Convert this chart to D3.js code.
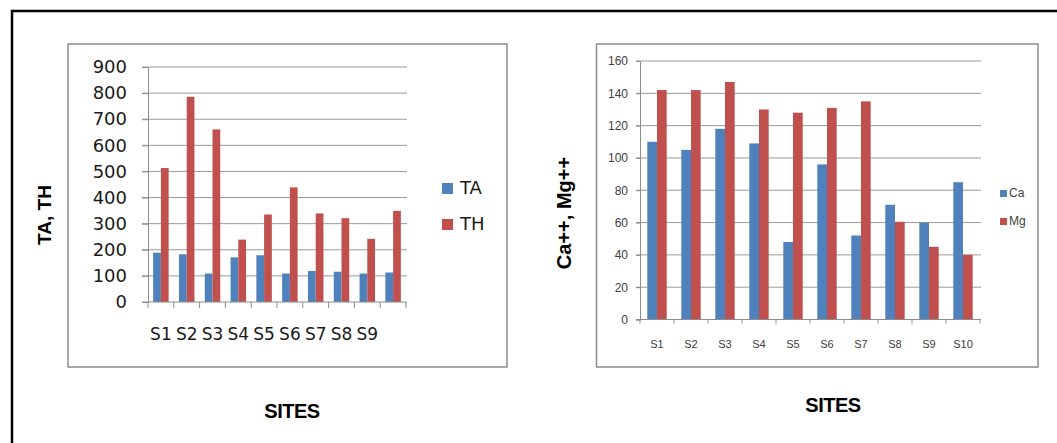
<!DOCTYPE html>
<html>
<head>
<meta charset="utf-8">
<script src="https://cdn.jsdelivr.net/npm/d3@7"></script>
<style>
  body { margin: 0; background: #fff; }
  svg { display: block; }
</style>
</head>
<body>
<div id="chart"></div>
<script>
// data
const sitesLeft = ["S1", "S2", "S3", "S4", "S5", "S6", "S7", "S8", "S9", "S10"];
const taValues = [189, 183, 109, 171, 179, 109, 119, 116, 109, 113];
const thValues = [513, 786, 661, 239, 335, 439, 339, 321, 242, 349];
const leftTicks = [0, 100, 200, 300, 400, 500, 600, 700, 800, 900];

const sitesRight = ["S1", "S2", "S3", "S4", "S5", "S6", "S7", "S8", "S9", "S10"];
const caValues = [110, 105, 118, 109, 48, 96, 52, 71, 60, 85];
const mgValues = [142, 142, 147, 130, 128, 131, 135, 60.5, 45, 40];
const rightTicks = [0, 20, 40, 60, 80, 100, 120, 140, 160];

const blue = "#4F81BD", red = "#C0504D";

const svg = d3.select("#chart").append("svg")
    .attr("width", 1057)
    .attr("height", 443);

// outer black border (top and left only)
svg.append("line").attr("x1", 11).attr("x2", 1057).attr("y1", 11).attr("y2", 11)
    .attr("stroke", "#000").attr("stroke-width", 2.5);
svg.append("line").attr("x1", 12).attr("x2", 12).attr("y1", 10).attr("y2", 443)
    .attr("stroke", "#000").attr("stroke-width", 2.5);

function drawChart(opt) {
    const g = svg.append("g");

    // chart frame
    g.append("rect")
        .attr("x", opt.frame[0]).attr("y", opt.frame[1])
        .attr("width", opt.frame[2]).attr("height", opt.frame[3])
        .attr("fill", "none").attr("stroke", "#8c8c8c").attr("stroke-width", 1.5);

    const n = opt.cats.length;
    const x = d3.scaleBand()
        .domain(opt.cats)
        .range([opt.x0, opt.x1])
        .paddingInner(opt.pad)
        .paddingOuter(opt.pad / 2);
    const x1 = d3.scaleBand().domain([0, 1]).range([0, x.bandwidth()]);
    const y = d3.scaleLinear().domain([0, opt.max]).range([opt.y0, opt.y1]);
    const step = (opt.x1 - opt.x0) / n;

    // gridlines
    g.append("g").selectAll("line")
        .data(opt.ticks.filter(d => d > 0))
        .join("line")
        .attr("x1", opt.x0 - opt.tick).attr("x2", opt.x1 + 1)
        .attr("y1", d => y(d)).attr("y2", d => y(d))
        .attr("stroke", "#9a9a9a").attr("stroke-width", 1);

    // bars
    const groups = g.append("g").selectAll("g")
        .data(opt.cats.map((c, i) => ({ c, v: [opt.s1[i], opt.s2[i]] })))
        .join("g")
        .attr("transform", d => `translate(${x(d.c)},0)`);
    groups.selectAll("rect")
        .data(d => d.v.map((v, k) => ({ v, k })))
        .join("rect")
        .attr("x", d => x1(d.k))
        .attr("width", x1.bandwidth())
        .attr("y", d => y(d.v))
        .attr("height", d => y(0) - y(d.v))
        .attr("fill", d => d.k === 0 ? blue : red);

    // y axis
    const ya = g.append("g")
        .attr("transform", `translate(${opt.x0},0)`)
        .call(d3.axisLeft(y).tickValues(opt.ticks).tickSize(opt.tick).tickPadding(opt.yPad));
    ya.select(".domain").attr("stroke", "#8c8c8c");
    ya.selectAll(".tick line").attr("stroke", "#8c8c8c");
    ya.selectAll("text")
        .attr("font-family", opt.font).attr("font-size", opt.ySize).attr("fill", opt.textColor);

    // x axis: baseline, category separators and labels
    g.append("line")
        .attr("x1", opt.x0 - opt.tick).attr("x2", opt.x1 + 1)
        .attr("y1", y(0)).attr("y2", y(0))
        .attr("stroke", "#8c8c8c");
    g.append("g").selectAll("line")
        .data(d3.range(n + 1))
        .join("line")
        .attr("x1", i => opt.x0 + i * step).attr("x2", i => opt.x0 + i * step)
        .attr("y1", y(0)).attr("y2", y(0) + opt.tick)
        .attr("stroke", "#8c8c8c");
    g.append("g").selectAll("text")
        .data(opt.labels)
        .join("text")
        .attr("x", d => x(d) + x.bandwidth() / 2)
        .attr("y", opt.labelY)
        .attr("text-anchor", "middle")
        .attr("font-family", opt.font).attr("font-size", opt.xSize).attr("fill", opt.textColor)
        .text(d => d);

    // legend
    opt.legend.forEach((name, k) => {
        g.append("rect")
            .attr("x", opt.legX).attr("y", opt.legY + k * opt.legGap - opt.box)
            .attr("width", opt.box).attr("height", opt.box)
            .attr("fill", k === 0 ? blue : red);
        g.append("text")
            .attr("x", opt.legX + opt.box + opt.legText).attr("y", opt.legY + k * opt.legGap)
            .attr("font-family", opt.font).attr("font-size", opt.legSize).attr("fill", opt.textColor)
            .text(name);
    });

    // axis titles
    g.append("text")
        .attr("transform", `translate(${opt.yTitle[0]},${opt.yTitle[1]}) rotate(-90)`)
        .attr("text-anchor", "middle")
        .attr("font-family", "Liberation Sans, Arial, sans-serif")
        .attr("font-weight", "bold").attr("font-size", opt.yTitleSize)
        .text(opt.yTitleText);
    g.append("text")
        .attr("x", opt.xTitle[0]).attr("y", opt.xTitle[1])
        .attr("text-anchor", "middle")
        .attr("font-family", "Liberation Sans, Arial, sans-serif")
        .attr("font-weight", "bold").attr("font-size", 20)
        .attr("letter-spacing", -0.5)
        .text("SITES");
}

drawChart({
    frame: [68, 44, 439, 323],
    cats: sitesLeft, labels: sitesLeft.slice(0, 9),
    s1: taValues, s2: thValues, ticks: leftTicks, max: 900,
    x0: 148, x1: 406, y0: 302, y1: 67, pad: 0.4, tick: 6, yPad: 15,
    font: "DejaVu Sans, Verdana, sans-serif", ySize: 18, xSize: 17, textColor: "#1a1a1a",
    labelY: 340,
    legend: ["TA", "TH"], legX: 442, legY: 194, legGap: 36, box: 11, legText: 7, legSize: 18,
    yTitle: [51, 215], yTitleSize: 19, yTitleText: "TA, TH",
    xTitle: [292, 418]
});

drawChart({
    frame: [596.5, 44, 441.5, 323],
    cats: sitesRight, labels: sitesRight,
    s1: caValues, s2: mgValues, ticks: rightTicks, max: 160,
    x0: 640, x1: 980, y0: 319.5, y1: 61, pad: 0.43, tick: 4, yPad: 8,
    font: "Liberation Sans, Arial, sans-serif", ySize: 12, xSize: 11, textColor: "#404040",
    labelY: 348,
    legend: ["Ca", "Mg"], legX: 1000, legY: 197, legGap: 28, box: 7, legText: 2, legSize: 12,
    yTitle: [571, 213], yTitleSize: 20, yTitleText: "Ca++, Mg++",
    xTitle: [833, 412]
});
</script>
</body>
</html>
